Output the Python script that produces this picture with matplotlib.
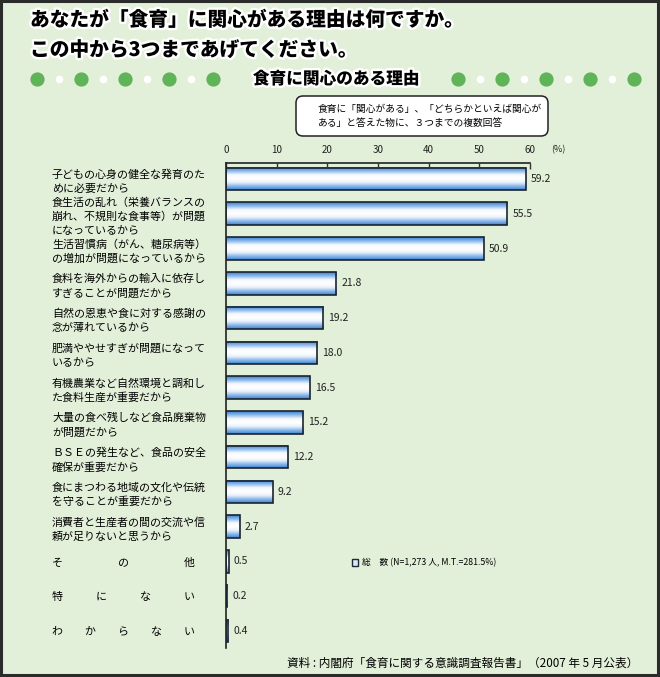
import matplotlib
matplotlib.use("Agg")
import matplotlib.pyplot as plt
import matplotlib.patheffects as pe
from matplotlib.colors import LinearSegmentedColormap
from matplotlib.patches import FancyBboxPatch, Rectangle, Patch
import numpy as np

plt.rcParams['font.family'] = ['Noto Sans CJK JP', 'DejaVu Sans']

# ---------------- data ----------------
categories = [
    "子どもの心身の健全な発育のた\nめに必要だから",
    "食生活の乱れ（栄養バランスの\n崩れ、不規則な食事等）が問題\nになっているから",
    "生活習慣病（がん、糖尿病等）\nの増加が問題になっているから",
    "食料を海外からの輸入に依存し\nすぎることが問題だから",
    "自然の恩恵や食に対する感謝の\n念が薄れているから",
    "肥満ややせすぎが問題になって\nいるから",
    "有機農業など自然環境と調和し\nた食料生産が重要だから",
    "大量の食べ残しなど食品廃棄物\nが問題だから",
    "ＢＳＥの発生など、食品の安全\n確保が重要だから",
    "食にまつわる地域の文化や伝統\nを守ることが重要だから",
    "消費者と生産者の間の交流や信\n頼が足りないと思うから",
    "そ　　　　　の　　　　　他",
    "特　　　に　　　な　　　い",
    "わ　　か　　ら　　な　　い",
]
values = [59.2, 55.5, 50.9, 21.8, 19.2, 18.0, 16.5, 15.2, 12.2, 9.2, 2.7, 0.5, 0.2, 0.4]
xticks = [0, 10, 20, 30, 40, 50, 60]

title1 = "あなたが「食育」に関心がある理由は何ですか。"
title2 = "この中から3つまであげてください。"
subtitle = "食育に関心のある理由"
note = "食育に「関心がある」、「どちらかといえば関心が\nある」と答えた物に、３つまでの複数回答"
legend_label = "総　数 (N=1,273 人, M.T.=281.5%)"
source = "資料 : 内閣府「食育に関する意識調査報告書」（2007 年 5 月公表）"

# ---------------- figure ----------------
W, H = 660, 677
BG = '#E2EFD9'
fig = plt.figure(figsize=(W / 100, H / 100), dpi=100, facecolor=BG)

# overlay in pixel coords for decorations
ov = fig.add_axes([0, 0, 1, 1], zorder=0)
ov.set_xlim(0, W)
ov.set_ylim(H, 0)
ov.axis('off')

ov.add_patch(Rectangle((1, 1), W - 3, H - 3, fill=False, edgecolor='#2b2b2b', lw=2.2))

stroke = [pe.withStroke(linewidth=3.5, foreground='white')]
ov.text(30, 20, title1, fontsize=14.2, fontweight='heavy', va='center', ha='left',
        color='black', path_effects=stroke)
ov.text(30, 50, title2, fontsize=14.2, fontweight='heavy', va='center', ha='left',
        color='black', path_effects=stroke)
ov.text(336, 79, subtitle, fontsize=12, fontweight='heavy', va='center', ha='center',
        color='black', path_effects=stroke)

green = '#5FB45A'
for x0 in (37, 458):
    for k in range(9):
        xx = x0 + k * 22.0
        if k % 2 == 0:
            ov.scatter([xx], [79], s=105, color=green, zorder=3, linewidths=0)
        else:
            ov.scatter([xx], [79], s=30, color='white', zorder=3, linewidths=0)

box = FancyBboxPatch((296, 96), 252, 40, boxstyle="round,pad=0,rounding_size=7",
                     facecolor='white', edgecolor='#222222', lw=1.1)
ov.add_patch(box)
ov.text(318, 116, note, fontsize=7, va='center', ha='left', linespacing=1.5)

ov.text(638, 663, source, fontsize=8.4, va='center', ha='right')

# ---------------- main axes ----------------
left, right, top, bottom = 226, 530, 163, 648
ax = fig.add_axes([left / W, 1 - bottom / H, (right - left) / W, (bottom - top) / H], zorder=2)
ax.set_facecolor('none')

n = len(values)
ypos = np.arange(n)
bars = ax.barh(ypos, values, height=0.65, facecolor='none', edgecolor='#1a2430',
               lw=1.2, zorder=3)

cmap = LinearSegmentedColormap.from_list('g', ['#3A80D2', '#8DBAEA', '#F4F8FF', '#FFFFFF',
                                               '#EAF2FC', '#8DBAEA', '#3A80D2'])
grad = np.linspace(0, 1, 64).reshape(-1, 1)
for b in bars:
    x0, y0, w, h = b.get_x(), b.get_y(), b.get_width(), b.get_height()
    ax.imshow(grad, extent=[x0, x0 + w, y0 + h, y0], aspect='auto', cmap=cmap,
              interpolation='bilinear', zorder=2)

for b, v in zip(bars, values):
    ax.text(b.get_width() + 1.0, b.get_y() + b.get_height() / 2, f"{v:.1f}",
            va='center', ha='left', fontsize=7.5, color='#222222')

ax.set_xlim(0, 60)
ax.set_ylim(n - 1 + 0.49, -0.46)

ax.xaxis.tick_top()
ax.set_xticks(xticks)
ax.set_xticklabels([str(t) for t in xticks], fontsize=7, color='#222222')
ax.tick_params(axis='x', direction='in', length=4, width=1, pad=6, color='#333333')
ax.annotate("(%)", xy=(1, 1), xycoords='axes fraction', xytext=(15, 9.5),
            textcoords='offset points', fontsize=6.5, va='center', ha='left',
            color='#222222')

ax.set_yticks(ypos)
ax.set_yticklabels(categories, fontsize=7.9, ha='left', linespacing=1.45)
ax.tick_params(axis='y', length=0, pad=(left - 52) * 0.72)

for s in ('right', 'bottom'):
    ax.spines[s].set_visible(False)
ax.spines['left'].set_color('#222222')
ax.spines['top'].set_color('#222222')
ax.spines['left'].set_linewidth(1.2)
ax.spines['top'].set_linewidth(1.2)

handle = Patch(facecolor='#DCE9F8', edgecolor='#1e2a36', lw=1.0)
fig.legend([handle], [legend_label], loc='center left',
           bbox_to_anchor=(348 / W, 1 - 563 / H), frameon=False, fontsize=6.3,
           handlelength=0.7, handleheight=0.8, handletextpad=0.4, borderpad=0)

fig.savefig('out.png', dpi=100, facecolor=BG)
